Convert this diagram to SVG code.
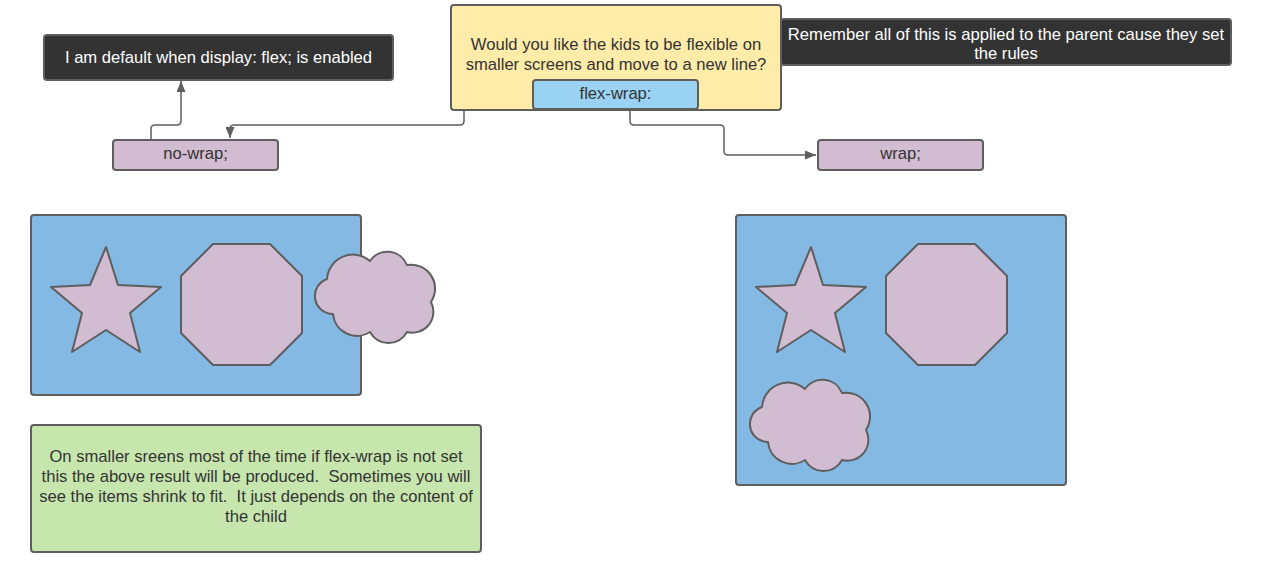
<svg xmlns="http://www.w3.org/2000/svg" width="1270" height="576" viewBox="0 0 1270 576">
<style>
.box{stroke:#5e5e5e;stroke-width:2;stroke-linejoin:round}
.dark{fill:#333333}
.lilac{fill:#d1bcd2}
.t{font-family:"Liberation Sans",Arial,sans-serif;font-size:16.6px;fill:#333333;text-anchor:middle;white-space:pre}
.w{fill:#ffffff}
.conn{fill:none;stroke:#5e5e5e;stroke-width:1.5}
</style>
<defs>
<marker id="arr" markerUnits="userSpaceOnUse" markerWidth="11" markerHeight="9" refX="11" refY="4.5" orient="auto">
<path d="M0,0 L11,4.5 L0,9 Z" fill="#5e5e5e"/>
</marker>
<path id="star" d="M106,247 L118,285 L161,287 L130,313 L140,352 L106,330 L72,352 L82,313 L51,287 L90,285 Z"/>
<path id="oct" d="M32,0 L89,0 L121,32 L121,89 L89,121 L32,121 L0,89 L0,32 Z"/>
<path id="cloud" d="M11,27 A26,26 0 0 1 54,9 A21,21 0 0 1 91,13 A24,24 0 0 1 115,50 A21,21 0 0 1 91,80 A21,21 0 0 1 54,80 A24,24 0 0 1 17,62 A18,18 0 0 1 11,27 Z"/>
</defs>

<g id="connectors">
<path class="conn" d="M464,110 L464,121 Q464,125 460,125 L234,125 Q230,125 230,129 L230,138" marker-end="url(#arr)"/>
<path class="conn" d="M151,140 L151,129 Q151,125 155,125 L177,125 Q181,125 181,121 L181,81" marker-end="url(#arr)"/>
<path class="conn" d="M630,109 L630,121 Q630,125 634,125 L720,125 Q724,125 724,129 L724,151 Q724,155 728,155 L816,155" marker-end="url(#arr)"/>
</g>

<g id="default-note">
<rect class="box dark" x="44" y="35" width="349" height="45" rx="3"/>
<text class="t w" x="218.5" y="63">I am default when display: flex; is enabled</text>
</g>

<g id="question">
<rect class="box" fill="#ffeca9" x="451" y="5" width="330" height="105" rx="3"/>
<text class="t" x="616" y="50">Would you like the kids to be flexible on</text>
<text class="t" x="616" y="70">smaller screens and move to a new line?</text>
</g>

<g id="flex-wrap">
<rect class="box" fill="#99d2f2" x="533" y="80" width="165" height="29" rx="3"/>
<text class="t" x="615.5" y="99">flex-wrap:</text>
</g>

<g id="parent-note">
<rect class="box dark" x="781" y="19" width="450" height="46" rx="3"/>
<text class="t w" x="1006" y="40">Remember all of this is applied to the parent cause they set</text>
<text class="t w" x="1006" y="59">the rules</text>
</g>

<g id="no-wrap">
<rect class="box lilac" x="113" y="140" width="165" height="30" rx="3"/>
<text class="t" x="195.5" y="159">no-wrap;</text>
</g>

<g id="wrap">
<rect class="box lilac" x="818" y="140" width="165" height="30" rx="3"/>
<text class="t" x="900.5" y="159">wrap;</text>
</g>

<g id="nowrap-container">
<rect class="box" fill="#83b9e3" x="31" y="215" width="330" height="180" rx="3"/>
<use href="#star" class="box lilac"/>
<use href="#oct" class="box lilac" x="181" y="244"/>
<use href="#cloud" class="box lilac" x="316" y="252"/>
</g>

<g id="wrap-container">
<rect class="box" fill="#83b9e3" x="736" y="215" width="330" height="270" rx="3"/>
<use href="#star" class="box lilac" x="705"/>
<use href="#oct" class="box lilac" x="886" y="244"/>
<use href="#cloud" class="box lilac" x="751" y="380"/>
</g>

<g id="explanation">
<rect class="box" fill="#c7e6ad" x="31" y="425" width="450" height="127" rx="3"/>
<text class="t" x="256" y="462">On smaller sreens most of the time if flex-wrap is not set</text>
<text class="t" x="256" y="482">this the above result will be produced.  Sometimes you will</text>
<text class="t" x="256" y="502">see the items shrink to fit.  It just depends on the content of</text>
<text class="t" x="256" y="522">the child</text>
</g>
</svg>
